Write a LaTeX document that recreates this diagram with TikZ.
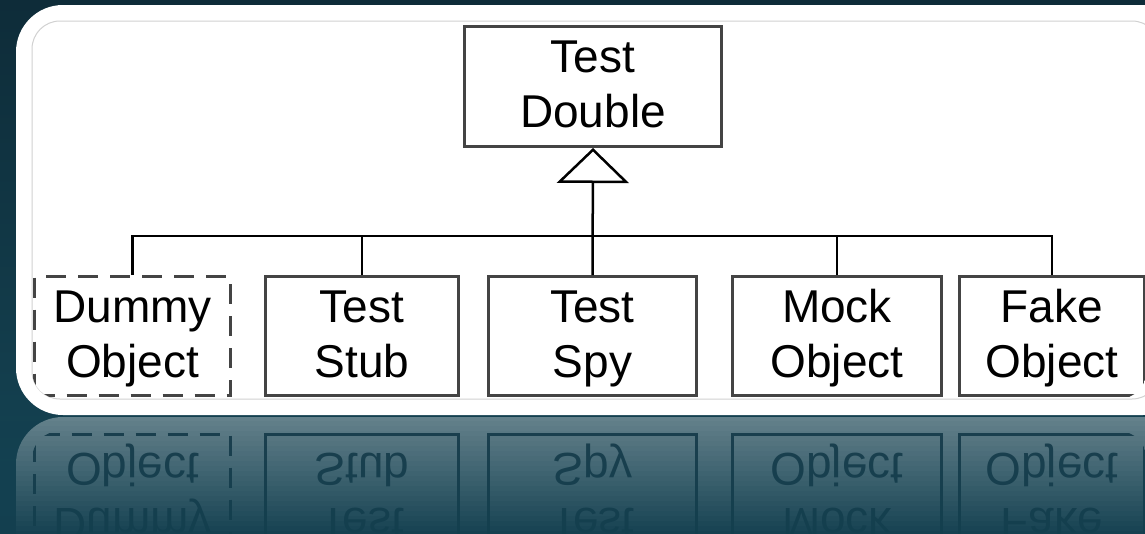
\documentclass[tikz,border=0pt]{standalone}
\usepackage{fontspec}
\setmainfont{Liberation Sans}
\usetikzlibrary{arrows.meta}
\definecolor{bgtop}{HTML}{0E2C39}
\definecolor{bgbot}{HTML}{154555}
\definecolor{fadecol}{HTML}{133F4F}
\definecolor{boxline}{HTML}{444444}
\definecolor{refline}{HTML}{1C404E}
\newcommand{\lstrut}{\rule[-14pt]{0pt}{55pt}}
\newcommand{\twolines}[2]{\lstrut#1\\\lstrut#2}
\newcommand{\boxrow}[2]{%
  \node[#2, dash pattern=on 20pt off 12pt, minimum width=196pt] (#1dummy) at (132.5,336) {\twolines{Dummy}{Object}};
  \node[#2, minimum width=193pt] (#1stub) at (362,336) {\twolines{Test}{Stub}};
  \node[#2, minimum width=208pt] (#1spy) at (592.5,336) {\twolines{Test}{Spy}};
  \node[#2, minimum width=209pt] (#1mock) at (837,336) {\twolines{Mock}{Object}};
  \node[#2, minimum width=185pt] (#1fake) at (1052,336) {\twolines{Fake}{Object}};
}
\begin{document}
\begin{tikzpicture}[x=1pt, y=-1pt,
  box/.style={draw=boxline, line width=3pt, fill=white, minimum height=119pt,
    inner sep=0pt, align=center, text=black,
    font=\fontsize{46}{55}\selectfont},
  rbox/.style={draw=refline, line width=3pt, minimum height=119pt,
    inner sep=0pt, align=center, text=refline,
    font=\fontsize{46}{55}\selectfont},
  conn/.style={draw=black, line width=2.5pt}]
\useasboundingbox (0,0) rectangle (1145,533);
\clip (0,0) rectangle (1145,533);
% background
\shade[top color=bgtop, bottom color=bgbot] (0,0) rectangle (1145,533);
% white panel
\fill[white, rounded corners=47pt] (16,5) rectangle (1190,415);
\draw[black!18, line width=1pt, rounded corners=28pt] (32,21) rectangle (1160,399);
% content
\begin{scope}
  \clip[rounded corners=28pt] (32,21) rectangle (1146.5,399);
  \node[box, minimum width=257pt, minimum height=120pt] (double) at (593,86.5) {\twolines{Test}{Double}};
  \boxrow{}{box}
  \coordinate (bar) at (592,236);
  \draw[conn] (dummy.north) -- (dummy.north |- bar) -- (fake.north |- bar) -- (fake.north);
  \draw[conn] (stub.north) -- (stub.north |- bar);
  \draw[conn] (mock.north) -- (mock.north |- bar);
  \draw[conn, -{Triangle[length=35pt, width=72pt, fill=white]}] (spy.north) -- (double.south);
\end{scope}
% reflection
\begin{scope}
  \clip (0,416) rectangle (1145,533);
  \fill[white, opacity=0.34, rounded corners=47pt] (16,417) rectangle (1190,830);
  \begin{scope}[shift={(0,830)}, yscale=-1, transform shape]
    \clip[rounded corners=28pt] (32,21) rectangle (1146.5,399);
    \boxrow{r}{rbox}
  \end{scope}
  \foreach \i in {0,...,23} {
    \pgfmathsetmacro{\op}{0.96*\i/23}
    \fill[fadecol, opacity=\op] (0,{416+5*\i}) rectangle (1145,{421+5*\i});
  }
\end{scope}
\end{tikzpicture}
\end{document}
